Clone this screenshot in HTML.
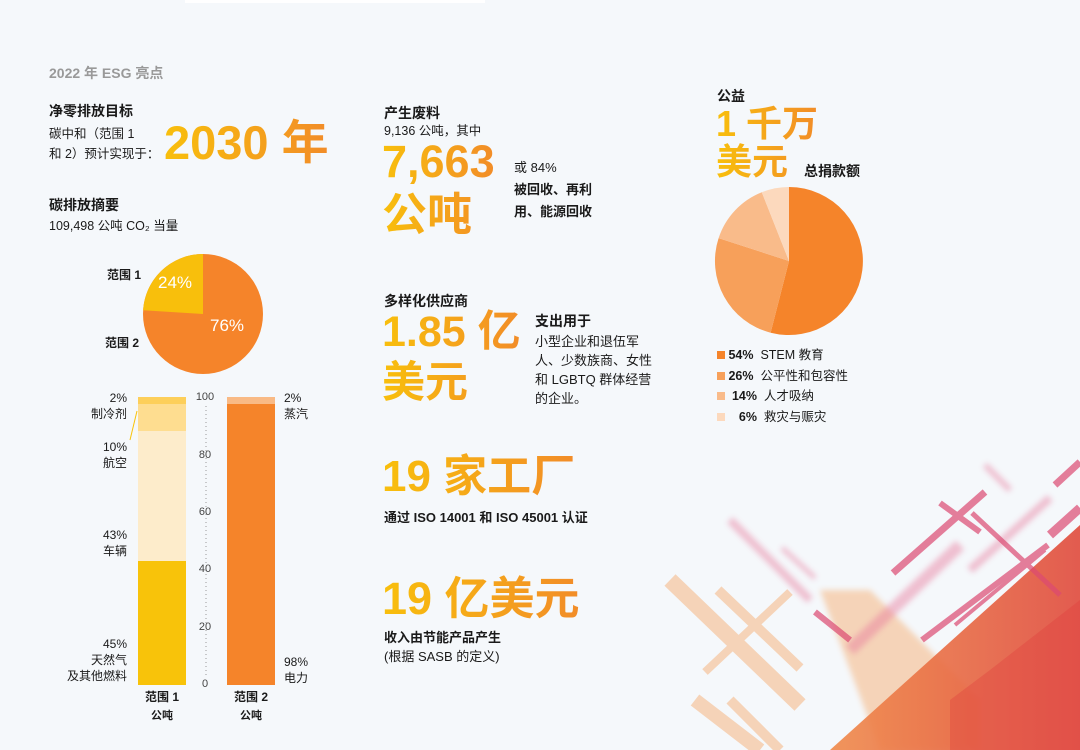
<!DOCTYPE html>
<html><head><meta charset="utf-8"><style>
body{margin:0;width:1080px;height:750px;background:#f5f8fb;position:relative;overflow:hidden;font-family:"Liberation Sans","Noto Sans CJK SC",sans-serif;color:#1a1a1a}
.a{position:absolute;white-space:nowrap}
.h{font-weight:bold;font-size:14px}
.t{font-size:12.5px;line-height:20px}
.g{font-weight:bold;background:linear-gradient(90deg,#f8bf0c,#f28c28);-webkit-background-clip:text;background-clip:text;color:transparent;}
svg{position:absolute;left:0;top:0}
</style></head><body>
<svg width="1080" height="750">
<defs><linearGradient id="rg" x1="0" y1="0" x2="1" y2="0"><stop offset="0" stop-color="#f08a4a"/><stop offset="1" stop-color="#e04a3c"/></linearGradient>
<filter id="bl"><feGaussianBlur stdDeviation="3"/></filter></defs>
<rect x="185" y="0" width="300" height="3" fill="#fff"/>
<!-- decoration -->
<g stroke-linecap="butt" fill="none">
<g stroke="#f5a868" opacity="0.45">
<line x1="670" y1="580" x2="800" y2="705" stroke-width="16"/>
<line x1="718" y1="590" x2="800" y2="668" stroke-width="10"/>
<line x1="705" y1="672" x2="790" y2="592" stroke-width="8"/>
<line x1="695" y1="700" x2="760" y2="750" stroke-width="14"/>
<line x1="730" y1="700" x2="780" y2="750" stroke-width="10"/>
</g>
<path d="M820,590 L870,590 L980,700 L980,750 L880,750 Z" fill="#f5a868" opacity="0.45" filter="url(#bl)"/>
<g stroke="#e7799b" opacity="0.45" filter="url(#bl)">
<line x1="730" y1="520" x2="810" y2="600" stroke-width="8"/>
<line x1="782" y1="548" x2="815" y2="578" stroke-width="5"/>
<line x1="850" y1="650" x2="960" y2="545" stroke-width="12"/>
<line x1="970" y1="570" x2="1050" y2="498" stroke-width="8"/>
<line x1="985" y1="465" x2="1010" y2="490" stroke-width="6"/>
</g>
</g>
<polygon points="1080,525 1080,750 830,750" fill="url(#rg)" opacity="0.9"/>
<polygon points="1080,600 1080,750 950,750 950,700 990,670" fill="#e03c3c" opacity="0.35"/>
<g stroke="#dc4a72" opacity="0.7" fill="none">
<line x1="893" y1="573" x2="985" y2="492" stroke-width="7"/>
<line x1="940" y1="503" x2="980" y2="532" stroke-width="6"/>
<line x1="972" y1="513" x2="1060" y2="595" stroke-width="5"/>
<line x1="922" y1="640" x2="1048" y2="545" stroke-width="6"/>
<line x1="955" y1="625" x2="1045" y2="550" stroke-width="4"/>
<line x1="815" y1="612" x2="850" y2="640" stroke-width="6"/>
<line x1="815" y1="612" x2="850" y2="640" stroke-width="6"/>
<line x1="1055" y1="485" x2="1080" y2="462" stroke-width="7"/>
<line x1="1050" y1="535" x2="1080" y2="508" stroke-width="9"/>
</g>
<!-- left pie -->
<circle cx="203" cy="314" r="60" fill="#f5842a"/>
<path d="M203,314 L203,254 A60,60 0 0 0 143.1,310.2 Z" fill="#f8bf0c"/>
<!-- right pie -->
<path d="M789,261 L789,187 A74,74 0 1 1 770.6,332.7 Z" fill="#f5842a"/>
<path d="M789,261 L770.6,332.7 A74,74 0 0 1 718.6,238.1 Z" fill="#f7a05a"/>
<path d="M789,261 L718.6,238.1 A74,74 0 0 1 761.8,192.2 Z" fill="#f9bb8a"/>
<path d="M789,261 L761.8,192.2 A74,74 0 0 1 789,187 Z" fill="#fcd9bd"/>
<!-- bars -->
<rect x="138" y="561" width="48" height="124" fill="#f8c30a"/>
<rect x="138" y="431" width="48" height="130" fill="#fdeccb"/>
<rect x="138" y="404" width="48" height="27" fill="#fedd90"/>
<rect x="138" y="397" width="48" height="7" fill="#fdcf5a"/>
<rect x="227" y="397" width="48" height="7" fill="#f9ba85"/>
<rect x="227" y="404" width="48" height="281" fill="#f5842a"/>
<line x1="206" y1="406" x2="206" y2="676" stroke="#999" stroke-width="1" stroke-dasharray="1,3"/>
<line x1="137" y1="411" x2="130" y2="440" stroke="#f8c30a" stroke-width="1"/>
<g font-size="11" fill="#444" text-anchor="middle" font-family="Liberation Sans">
<text x="205" y="400">100</text><text x="205" y="458">80</text><text x="205" y="515">60</text><text x="205" y="572">40</text><text x="205" y="630">20</text><text x="205" y="687">0</text>
</g>
</svg>
<div class="a" style="left:49px;top:63px;font-size:14px;font-weight:bold;color:#999">2022 年 ESG 亮点</div>
<div class="a h" style="left:49px;top:101px">净零排放目标</div>
<div class="a t" style="left:49px;top:124px">碳中和（范围 1<br>和 2）预计实现于：</div>
<div class="a g" style="left:164px;top:113px;font-size:47px;line-height:60px">2030 年</div>
<div class="a h" style="left:49px;top:195px">碳排放摘要</div>
<div class="a t" style="left:49px;top:216px">109,498 公吨 CO₂ 当量</div>
<div class="a" style="left:107px;top:266px;font-size:12px;font-weight:bold">范围 1</div>
<div class="a" style="left:105px;top:334px;font-size:12px;font-weight:bold">范围 2</div>
<div class="a" style="left:158px;top:273px;font-size:17px;color:#fff">24%</div>
<div class="a" style="left:210px;top:316px;font-size:17px;color:#fff">76%</div>
<div class="a" style="left:60px;top:390px;width:67px;text-align:right;font-size:12px;line-height:16px">2%<br>制冷剂</div>
<div class="a" style="left:60px;top:439px;width:67px;text-align:right;font-size:12px;line-height:16px">10%<br>航空</div>
<div class="a" style="left:60px;top:527px;width:67px;text-align:right;font-size:12px;line-height:16px">43%<br>车辆</div>
<div class="a" style="left:40px;top:636px;width:87px;text-align:right;font-size:12px;line-height:16px">45%<br>天然气<br>及其他燃料</div>
<div class="a" style="left:284px;top:390px;font-size:12px;line-height:16px">2%<br>蒸汽</div>
<div class="a" style="left:284px;top:654px;font-size:12px;line-height:16px">98%<br>电力</div>
<div class="a" style="left:138px;top:688px;width:48px;text-align:center;font-size:12px;line-height:18px;font-weight:bold">范围 1<br><span style="font-size:11px">公吨</span></div>
<div class="a" style="left:227px;top:688px;width:48px;text-align:center;font-size:12px;line-height:18px;font-weight:bold">范围 2<br><span style="font-size:11px">公吨</span></div>

<div class="a h" style="left:384px;top:103px">产生废料</div>
<div class="a t" style="left:384px;top:121px">9,136 公吨，其中</div>
<div class="a g" style="left:382px;top:135px;font-size:45px;line-height:53px">7,663<br>公吨</div>
<div class="a" style="left:514px;top:157px;font-size:13px;line-height:22px">或 84%<br><b>被回收、再利<br>用、能源回收</b></div>
<div class="a h" style="left:384px;top:291px">多样化供应商</div>
<div class="a g" style="left:382px;top:307px;font-size:43px;line-height:51px">1.85 亿<br>美元</div>
<div class="a" style="left:535px;top:310px;font-size:13px;line-height:19px"><b style="font-size:14px;line-height:22px">支出用于</b><br>小型企业和退伍军<br>人、少数族商、女性<br>和 LGBTQ 群体经营<br>的企业。</div>
<div class="a g" style="left:382px;top:450px;font-size:44px;line-height:54px">19 家工厂</div>
<div class="a" style="left:384px;top:507px;font-size:13px;font-weight:bold">通过 ISO 14001 和 ISO 45001 认证</div>
<div class="a g" style="left:382px;top:572px;font-size:45px;line-height:54px">19 亿美元</div>
<div class="a" style="left:384px;top:628px;font-size:13px;line-height:19px"><b>收入由节能产品产生</b><br>(根据 SASB 的定义)</div>

<div class="a h" style="left:717px;top:86px">公益</div>
<div class="a g" style="left:716px;top:105px;font-size:36px;line-height:38px">1 千万<br>美元</div>
<div class="a h" style="left:804px;top:161px">总捐款额</div>
<div class="a" style="left:717px;top:345px;font-size:12.5px;line-height:20.5px">
<span style="display:inline-block;width:8px;height:8px;background:#f5842a"></span> <b>54%</b>&nbsp; STEM 教育<br>
<span style="display:inline-block;width:8px;height:8px;background:#f7a05a"></span> <b>26%</b>&nbsp; 公平性和包容性<br>
<span style="display:inline-block;width:8px;height:8px;background:#f9bb8a"></span> &nbsp;<b>14%</b>&nbsp; 人才吸纳<br>
<span style="display:inline-block;width:8px;height:8px;background:#fcd9bd"></span> &nbsp;&nbsp;&nbsp;<b>6%</b>&nbsp; 救灾与赈灾</div>
</body></html>
